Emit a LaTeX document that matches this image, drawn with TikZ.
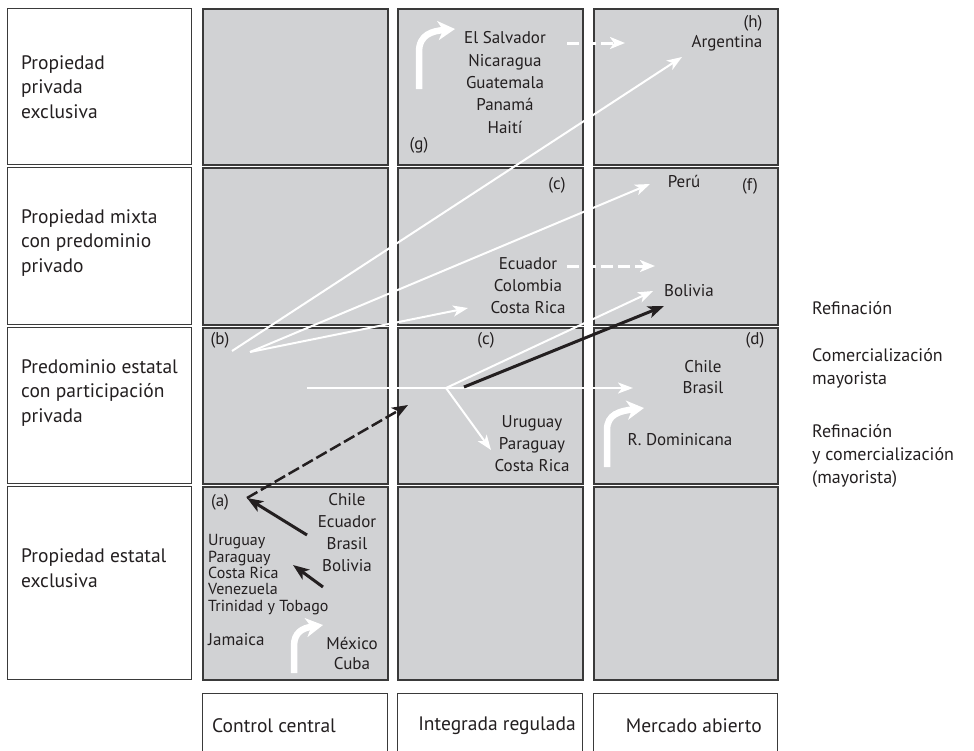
\documentclass[tikz,border=0pt]{standalone}
\usepackage{fontspec}
\setmainfont{PT Sans}
\usetikzlibrary{arrows.meta}
\definecolor{cellgrey}{HTML}{D1D2D4}
\definecolor{edge}{HTML}{3A3A3A}
\definecolor{ink}{HTML}{231F20}
\tikzset{
  cell/.style={draw=edge, line width=1.6pt, fill=cellgrey, anchor=north west, inner sep=0pt},
  hbox/.style={draw=edge, line width=1.4pt, fill=white, anchor=north west, inner sep=0pt},
  txt/.style={font=\fontsize{17}{22}\selectfont, text=ink, inner sep=0pt},
  head/.style={font=\fontsize{19.5}{24.5}\selectfont, text=ink, inner sep=0pt},
  legend/.style={font=\fontsize{18}{23}\selectfont, text=ink, inner sep=0pt, anchor=west, align=left},
  small/.style={font=\fontsize{16}{16.3}\selectfont, text=ink, inner sep=0pt},
  wthin/.style={draw=white, line width=2pt, -{Stealth[length=15pt,width=11pt,inset=4pt]}},
  wdash/.style={draw=white, line width=3pt, dash pattern=on 12pt off 5pt, -{Stealth[length=15pt,width=12pt,inset=4pt]}},
  bsolid/.style={draw=ink, line width=3pt, -{Stealth[length=16pt,width=12pt,inset=4pt]}},
  bdash/.style={draw=ink, line width=2.5pt, dash pattern=on 12pt off 4pt, -{Stealth[length=16pt,width=12pt,inset=4pt]}},
  bent/.style={draw=white, line width=6.5pt, -{Stealth[length=17pt,width=19pt,inset=5pt]}}
}
\begin{document}
\begin{tikzpicture}[x=1pt,y=-1pt]
\useasboundingbox (0,0) rectangle (974,750);
\clip (0,0) rectangle (974,750);

% row headings
\node[hbox, minimum width=184pt, minimum height=156pt] (h1) at (7,8) {};
\node[hbox, minimum width=184pt, minimum height=157pt] (h2) at (7,167) {};
\node[hbox, minimum width=184pt, minimum height=156pt] (h3) at (7,327) {};
\node[hbox, minimum width=184pt, minimum height=193pt] (h4) at (7,486) {};

% grid cells and column headings
\foreach \cx/\w [count=\j] in {202/185, 397/185, 593/184} {
  \node[cell, minimum width=\w pt, minimum height=156pt] (c1\j) at (\cx,8) {};
  \node[cell, minimum width=\w pt, minimum height=157pt] (c2\j) at (\cx,167) {};
  \node[cell, minimum width=\w pt, minimum height=156pt] (c3\j) at (\cx,327) {};
  \node[cell, minimum width=\w pt, minimum height=193pt] (c4\j) at (\cx,486) {};
  \node[hbox, minimum width=\w pt, minimum height=90pt] (f\j) at (\cx,693) {};
}

% heading texts
\node[head, anchor=west, align=left] (t1) at (21,87) {Propiedad\\privada\\exclusiva};
\node[head, anchor=west, align=left] (t2) at (21,243) {Propiedad mixta\\con predominio\\privado};
\node[head, anchor=west, align=left] (t3) at (21,393) {Predominio estatal\\con participación\\privada};
\node[head, anchor=west, align=left] (t4) at (21,568) {Propiedad estatal\\exclusiva};

\node[head, anchor=west] (m1) at (212,726) {Control central};
\node[head] (m2) at (497,726) {Integrada regulada};
\node[head, anchor=east] (m3) at (762,726) {Mercado abierto};

% legend
\node[legend] (l1) at (812,308) {Refinación};
\node[legend] (l2) at (812,368.5) {Comercialización\\mayorista};
\node[legend] (l3) at (812,455.5) {Refinación\\y comercialización\\(mayorista)};

% connector end points
\coordinate (b1) at (232,351);
\coordinate (b2) at (250,352);
\coordinate (argT) at (682,57);
\coordinate (peruT) at (650,184);
\coordinate (crT) at (468,308);
\coordinate (hs) at (307,388);
\coordinate (fork) at (446,388);
\coordinate (hT) at (633,388);
\coordinate (urT) at (491,450);
\coordinate (bolT) at (653,291);
\coordinate (k0) at (464,387);
\coordinate (kT) at (664,306);
\coordinate (a0) at (247,498);
\coordinate (dT) at (408,405);
\coordinate (ra1) at (307,535);
\coordinate (ra2) at (323,587);
\coordinate (ra2T) at (293,565);
\coordinate (es0) at (567,43);
\coordinate (esT) at (625,43);
\coordinate (ec0) at (567,266);
\coordinate (ecT) at (655,266);

% white connectors
\draw[wthin] (b1) -- (argT);
\draw[wthin] (b2) -- (peruT);
\draw[wthin] (b2) -- (crT);
\draw[wthin] (hs) -- (hT);
\draw[wthin] (fork) -- (urT);
\draw[wthin] (fork) -- (bolT);
\draw[wdash] (es0) -- (esT);
\draw[wdash] (ec0) -- (ecT);

% bent white arrows
\coordinate (g0) at (419,89);
\coordinate (gT) at (455,29);
\draw[bent] (g0) -- (419,52) .. controls (419,34) and (433,31) .. (gT);
\coordinate (d0) at (607,467);
\coordinate (dBT) at (644,408);
\draw[bent] (d0) -- (607,430) .. controls (607,414) and (620,411) .. (dBT);
\coordinate (e0) at (294,673);
\coordinate (eT) at (323,625);
\draw[bent] (e0) -- (294,646) .. controls (294,632) and (303,628) .. (eT);

% black connectors
\draw[bsolid] (k0) -- (kT);
\draw[bdash] (a0) -- (dT);
\draw[bsolid] (ra1) -- (a0);
\draw[bsolid] (ra2) -- (ra2T);

% cell texts, top row
\node[txt] (lg) at (419,145) {(g)};
\node[txt, align=center, font=\fontsize{17}{22.3}\selectfont] (n1) at (505,82.5) {El Salvador\\Nicaragua\\Guatemala\\Panamá\\Haití};
\node[txt] (lh) at (753,23) {(h)};
\node[txt] (arg) at (727,43) {Argentina};

% second row
\node[txt] (lc2) at (557,185) {(c)};
\node[txt] (peru) at (684,181) {Perú};
\node[txt] (lf) at (750,186) {(f)};
\node[txt, align=center] (n2) at (528,286) {Ecuador\\Colombia\\Costa Rica};
\node[txt] (bol) at (689,291) {Bolivia};

% third row
\node[txt] (lb) at (220,340) {(b)};
\node[txt] (lc3) at (486,340) {(c)};
\node[txt] (ld) at (755,340) {(d)};
\node[txt, align=center, font=\fontsize{17}{21}\selectfont] (n3) at (703,377.5) {Chile\\Brasil};
\node[txt, align=center] (n4) at (532,444) {Uruguay\\Paraguay\\Costa Rica};
\node[txt] (rdom) at (680,440) {R. Dominicana};

% fourth row
\node[txt] (la) at (220,502) {(a)};
\node[txt, align=center, font=\fontsize{17}{21.7}\selectfont] (n5) at (347,532.5) {Chile\\Ecuador\\Brasil\\Bolivia};
\node[small, anchor=west, align=left] (n6) at (208,574.5) {Uruguay\\Paraguay\\Costa Rica\\Venezuela\\Trinidad y Tobago};
\node[txt, anchor=west] (jam) at (208,640) {Jamaica};
\node[txt, align=center, font=\fontsize{17}{20}\selectfont] (n7) at (352,653) {México\\Cuba};
\end{tikzpicture}
\end{document}
